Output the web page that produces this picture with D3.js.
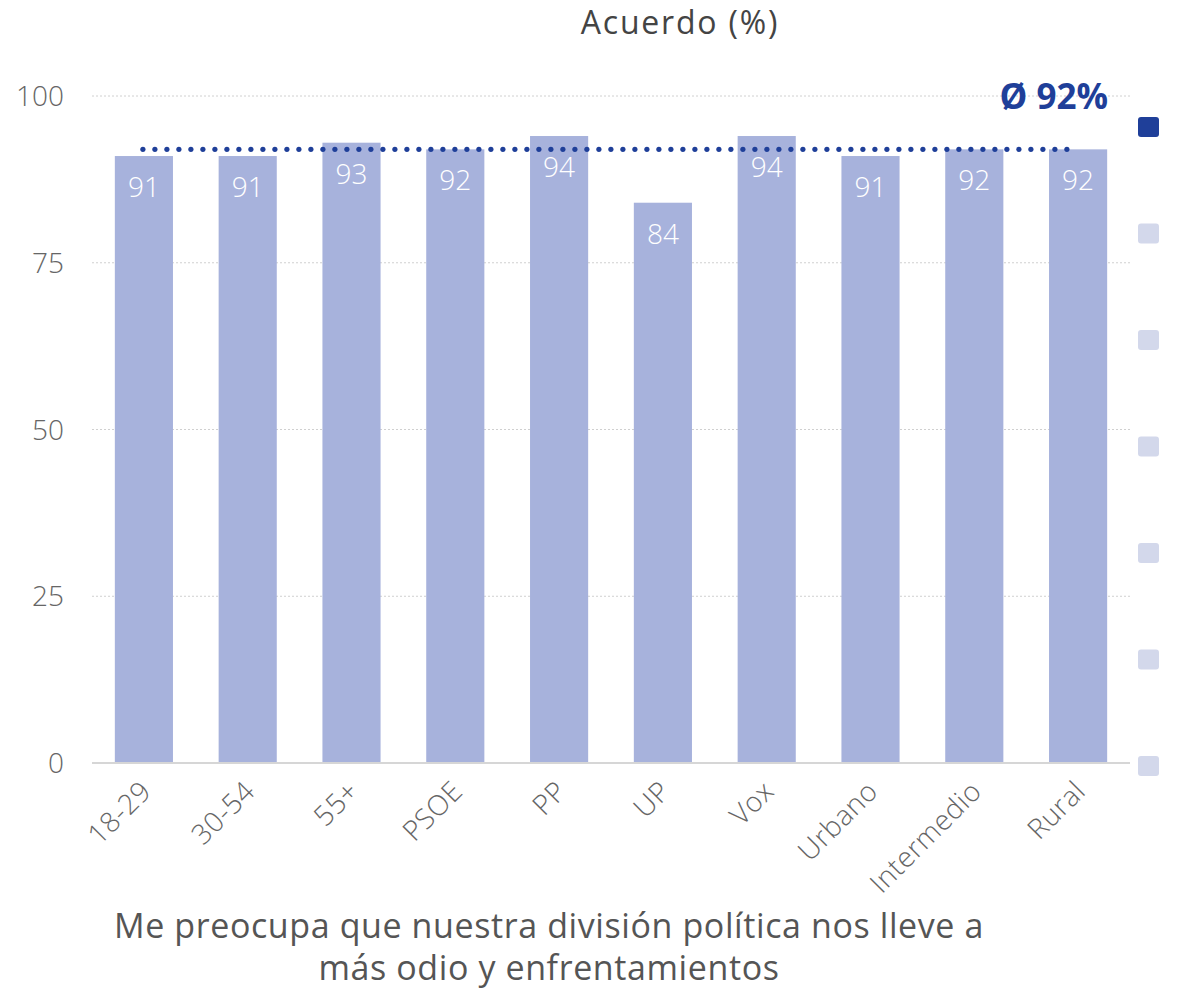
<!DOCTYPE html>
<html>
<head>
<meta charset="utf-8">
<script src="https://cdn.jsdelivr.net/npm/d3@7"></script>
<style>
  body { margin: 0; background: #fff; }
  svg { display: block; font-family: "Open Sans", Lato, sans-serif; }
</style>
</head>
<body>
<svg id="chart" width="1180" height="993"></svg>
<script>
// data
const categories = ['18-29', '30-54', '55+', 'PSOE', 'PP', 'UP', 'Vox', 'Urbano', 'Intermedio', 'Rural']
const values = [91, 91, 93, 92, 94, 84, 94, 91, 92, 92]
const average = 92
const yTicks = [0, 25, 50, 75, 100]
const pageDots = [true, false, false, false, false, false, false]

const svg = d3.select('#chart')

const margin = {left: 92, right: 50, top: 96, bottom: 230}
const W = 1180, H = 993

var x = d3.scaleBand()
  .domain(categories)
  .range([margin.left, W - margin.right])
  .paddingInner(0.44)
  .paddingOuter(0.22)

var y = d3.scaleLinear()
  .domain([0, 100])
  .range([H - margin.bottom, margin.top])

// title
svg.append('text')
  .attr('x', 680).attr('y', 34)
  .attr('text-anchor', 'middle')
  .attr('font-size', 32)
  .attr('letter-spacing', 1.8)
  .attr('fill', '#444')
  .text('Acuerdo (%)')

// grid
svg.append('g')
  .selectAll('line')
  .data(yTicks.filter(d => d > 0))
  .enter()
  .append('line')
  .attr('x1', margin.left).attr('x2', W - margin.right)
  .attr('y1', d => y(d)).attr('y2', d => y(d))
  .attr('stroke', '#d0d0d0')
  .attr('stroke-width', 1)
  .attr('stroke-dasharray', '2,2')

// y axis labels
svg.append('g')
  .selectAll('text')
  .data(yTicks)
  .enter()
  .append('text')
  .attr('x', 64)
  .attr('y', d => y(d) + 10)
  .attr('text-anchor', 'end')
  .attr('font-size', 28)
  .attr('font-weight', 300)
  .attr('fill', '#666')
  .text(d => d)

// bars
svg.append('g')
  .selectAll('rect')
  .data(values)
  .enter()
  .append('rect')
  .attr('x', (d, i) => x(categories[i]))
  .attr('width', x.bandwidth())
  .attr('y', d => y(d))
  .attr('height', d => y(0) - y(d))
  .attr('fill', '#a7b2dc')

// value labels
svg.append('g')
  .selectAll('text')
  .data(values)
  .enter()
  .append('text')
  .attr('x', (d, i) => x(categories[i]) + x.bandwidth() / 2)
  .attr('y', d => y(d) + 41)
  .attr('text-anchor', 'middle')
  .attr('font-size', 28)
  .attr('font-weight', 300)
  .attr('fill', '#fff')
  .text(d => d)

// baseline
svg.append('line')
  .attr('x1', margin.left).attr('x2', W - margin.right)
  .attr('y1', y(0)).attr('y2', y(0))
  .attr('stroke', '#d6d6d6')
  .attr('stroke-width', 2)

// x labels
svg.append('g')
  .selectAll('text')
  .data(categories)
  .enter()
  .append('text')
  .attr('transform', d => 'translate(' + (x(d) + x.bandwidth() / 2 + 9) + ',' + (y(0) + 30) + ') rotate(-45)')
  .attr('text-anchor', 'end')
  .attr('font-size', 28)
  .attr('font-weight', 300)
  .attr('letter-spacing', 0.5)
  .attr('fill', '#666')
  .text(d => d)

// average dotted line
var x0 = x(categories[0]) + x.bandwidth() / 2 - 1
var x1 = x(categories[categories.length - 1]) + x.bandwidth() / 2 - 7
svg.append('g')
  .selectAll('circle')
  .data(d3.range(x0, x1 + 0.1, 12))
  .enter()
  .append('circle')
  .attr('cx', d => d)
  .attr('cy', y(average))
  .attr('r', 2.6)
  .attr('fill', '#1f3f99')

svg.append('text')
  .attr('x', 1108).attr('y', y(100) + 13)
  .attr('text-anchor', 'end')
  .attr('font-size', 35)
  .attr('font-weight', 'bold')
  .attr('fill', '#1f3f99')
  .text('Ø ' + average + '%')

// page squares on the right
svg.append('g')
  .selectAll('rect')
  .data(pageDots)
  .enter()
  .append('rect')
  .attr('x', 1138)
  .attr('y', (d, i) => 117 + i * 106.5)
  .attr('width', 21).attr('height', 20)
  .attr('rx', 3)
  .attr('fill', d => d ? '#1f3f99' : '#d3d8eb')

// caption
var cap = svg.append('text')
  .attr('text-anchor', 'middle')
  .attr('font-size', 34)
  .attr('letter-spacing', 0.6)
  .attr('fill', '#555')
cap.append('tspan').attr('x', 549).attr('y', 938)
  .text('Me preocupa que nuestra división política nos lleve a')
cap.append('tspan').attr('x', 549).attr('y', 980)
  .text('más odio y enfrentamientos')
</script>
</body>
</html>
